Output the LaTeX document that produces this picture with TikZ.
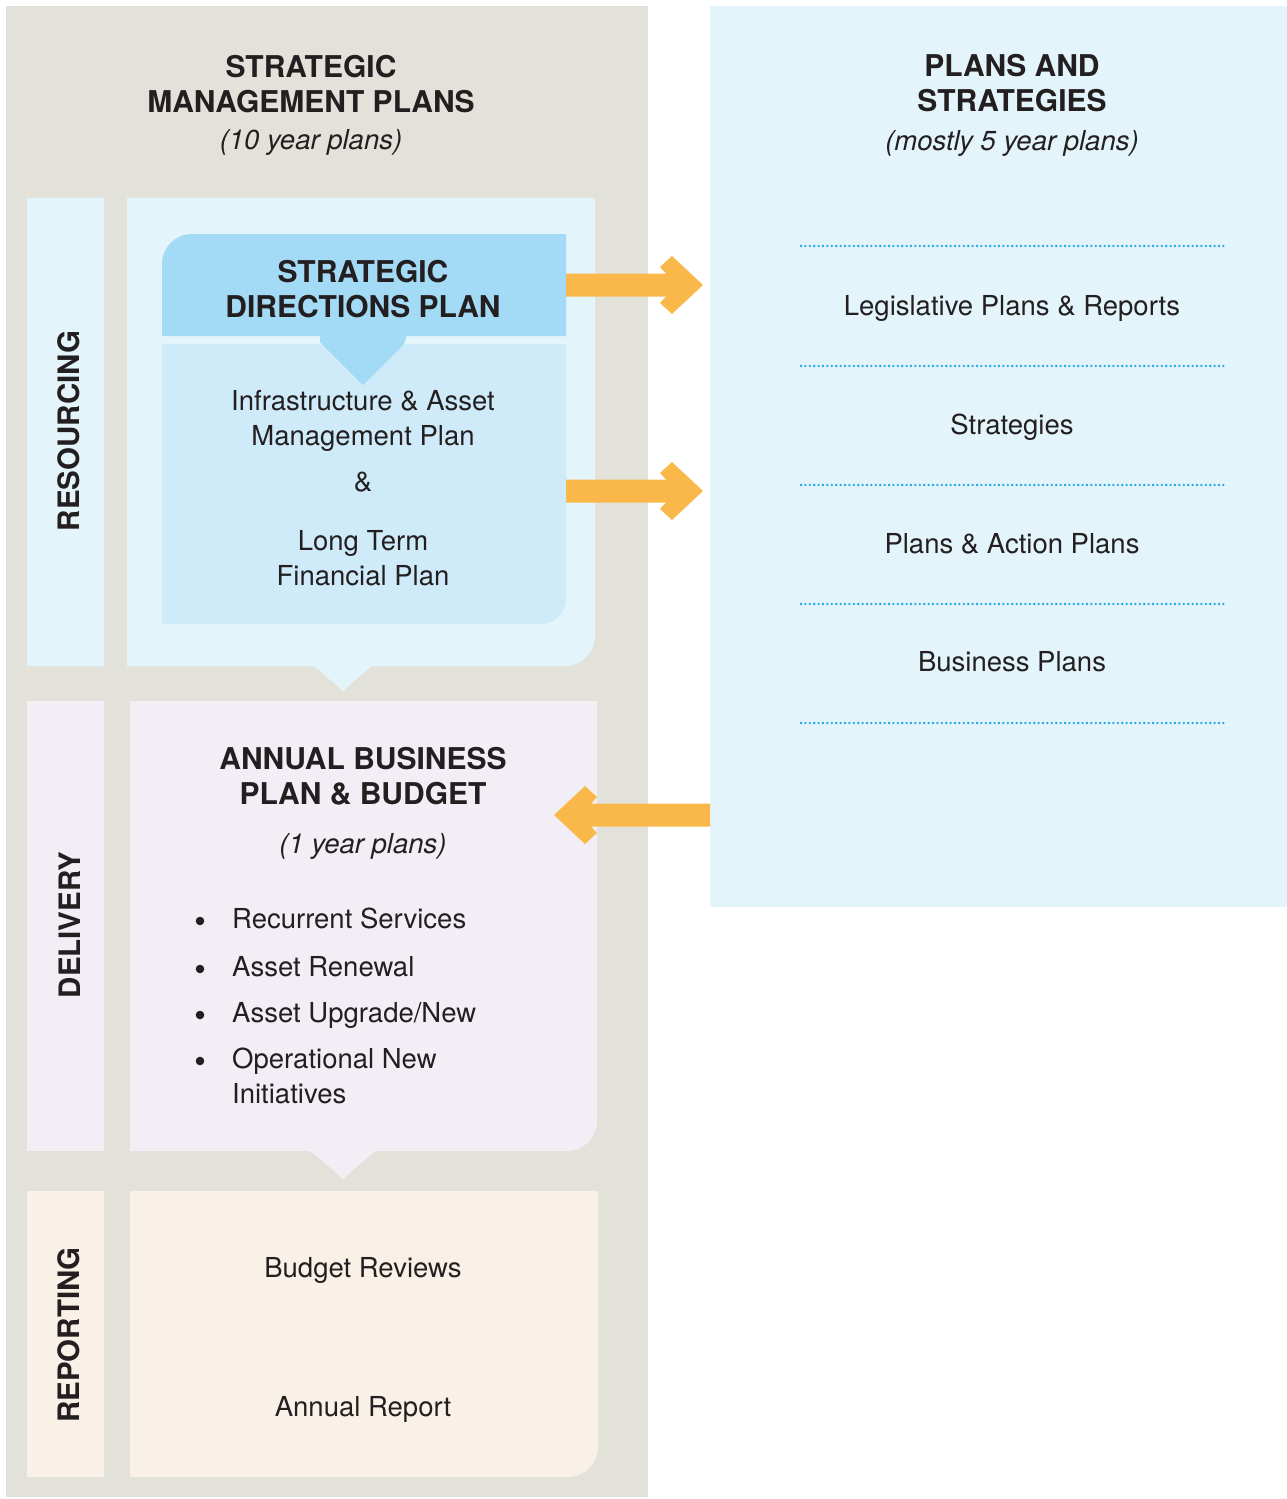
\documentclass[tikz,border=0pt]{standalone}
\usepackage{fontspec}
\setmainfont{TeX Gyre Heros}
\usepackage{tikz}
\usetikzlibrary{calc}
\definecolor{panelgrey}{HTML}{E2E1DA}
\definecolor{paleblue}{HTML}{E3F4FB}
\definecolor{headblue}{HTML}{A3DAF5}
\definecolor{midblue}{HTML}{CFEBF9}
\definecolor{lavender}{HTML}{F1EEF6}
\definecolor{cream}{HTML}{F9F0E7}
\definecolor{arroworange}{HTML}{FBB84A}
\definecolor{dotblue}{HTML}{1BA6E6}
\definecolor{ink}{HTML}{231F20}
% fat arrow: #1 tail, #2 tip, #3 = 1 (to the right) or -1 (to the left)
\newcommand{\fatarrow}[3]{%
\fill[arroworange] ($(#1)+(0,-11.5)$) -- ($(#2)+({-37*#3},-11.5)$) -- ($(#2)+({-43*#3},-18)$)
  -- ($(#2)+({-31*#3},-29)$) -- (#2) -- ($(#2)+({-31*#3},29)$) -- ($(#2)+({-43*#3},18)$)
  -- ($(#2)+({-37*#3},11.5)$) -- ($(#1)+(0,11.5)$) -- cycle;}

\begin{document}
\begin{tikzpicture}[x=1pt,y=-1pt,
  headtext/.style={font=\fontsize{30}{35}\selectfont\bfseries, text=ink, align=center, inner sep=0pt, anchor=base},
  bodytext/.style={font=\fontsize{27.5}{35}\selectfont, text=ink, align=center, inner sep=0pt, anchor=base},
  notetext/.style={bodytext, font=\fontsize{27.5}{35}\selectfont\itshape},
  sidetext/.style={font=\fontsize{29.5}{35}\selectfont\bfseries, text=ink, inner sep=0pt, anchor=base, rotate=90},
  listtext/.style={bodytext, align=left, anchor=base west},
  planline/.style={draw=dotblue, line width=2.6pt, line cap=round, dash pattern=on 0pt off 4.4pt}]
\useasboundingbox (0,0) rectangle (1287,1499);
% panels
\fill[panelgrey] (6,6) rectangle (648,1497);
\fill[paleblue] (710,6) rectangle (1287,907);
% side strips
\fill[paleblue] (27,198) rectangle (104,666);
\fill[lavender] (27,701) rectangle (104,1151);
\fill[cream] (27,1191) rectangle (104,1477);
% resourcing
\fill[paleblue] (127,198) -- (595,198) -- (595,636) arc[start angle=0, end angle=90, radius=30]
  -- (372,666) -- (343,691) [rounded corners=5pt] -- (314,666) [sharp corners] -- (127,666) -- cycle;
\fill[midblue] (162,344) -- (566,344) -- (566,599) arc[start angle=0, end angle=90, radius=25]
  -- (162,624) -- cycle;
\fill[headblue] (162,336) -- (162,264) arc[start angle=180, end angle=270, radius=30]
  -- (566,234) -- (566,336) -- cycle;
\fill[headblue] (320,336) -- (320,342) -- (363,385) [rounded corners=5pt] -- (406,342) [sharp corners] -- (406,336) -- cycle;
% delivery
\fill[lavender] (130,701) -- (597,701) -- (597,1121) arc[start angle=0, end angle=90, radius=30]
  -- (375,1151) -- (343,1179) [rounded corners=5pt] -- (311,1151) [sharp corners] -- (130,1151) -- cycle;
% reporting
\fill[cream] (130,1191) -- (598,1191) -- (598,1447) arc[start angle=0, end angle=90, radius=30]
  -- (130,1477) -- cycle;
% dotted rules
\foreach \y in {246,366,485,604,723} \draw[planline] (801,\y) -- (1226,\y);

% texts (base = baseline of the last line)
\node[headtext] (smp) at (311,112) {STRATEGIC\\MANAGEMENT PLANS};
\node[notetext] (smpnote) at (311,149) {(10 year plans)};
\node[headtext] (pas) at (1012,111) {PLANS AND\\STRATEGIES};
\node[notetext] (pasnote) at (1012,150) {(mostly 5 year plans)};
\node[sidetext] (resourcing) at (79,431) {RESOURCING};
\node[sidetext] (delivery) at (80,925) {DELIVERY};
\node[sidetext] (reporting) at (79,1335) {REPORTING};
\node[headtext] (sdp) at (363,317) {STRATEGIC\\DIRECTIONS PLAN};
\node[bodytext] (iam) at (363,445) {Infrastructure \& Asset\\Management Plan};
\node[bodytext] (amp) at (363,491) {\&};
\node[bodytext] (ltfp) at (363,585) {Long Term\\Financial Plan};
\node[bodytext] (legis) at (1012,315) {Legislative Plans \& Reports};
\node[bodytext] (strat) at (1012,434) {Strategies};
\node[bodytext] (action) at (1012,553) {Plans \& Action Plans};
\node[bodytext] (business) at (1012,671) {Business Plans};
\node[headtext] (abpb) at (363,804) {ANNUAL BUSINESS\\PLAN \& BUDGET};
\node[notetext] (abpbnote) at (363,853) {(1 year plans)};
\foreach \nm/\yb/\yy/\txt in {recur/928/928/{Recurrent Services}, renew/976/976/{Asset Renewal},
    upgrade/1022/1022/{Asset Upgrade/New}, initiatives/1068/1103/{Operational New\\Initiatives}} {
  \fill[ink] (200,\yb-7) circle[radius=4.3];
  \node[listtext] (\nm) at (232,\yy) {\txt};
}
\node[bodytext] (budget) at (363,1277) {Budget Reviews};
\node[bodytext] (annual) at (363,1416) {Annual Report};

% arrows
\coordinate (sdpR) at (566,285);
\coordinate (legtip) at (703,285);
\coordinate (iamR) at (566,491);
\coordinate (actiontip) at (703,491);
\coordinate (plansL) at (710,815);
\coordinate (abpbtip) at (554,815);
\fatarrow{sdpR}{legtip}{1}
\fatarrow{iamR}{actiontip}{1}
\fatarrow{plansL}{abpbtip}{-1}
\end{tikzpicture}
\end{document}
